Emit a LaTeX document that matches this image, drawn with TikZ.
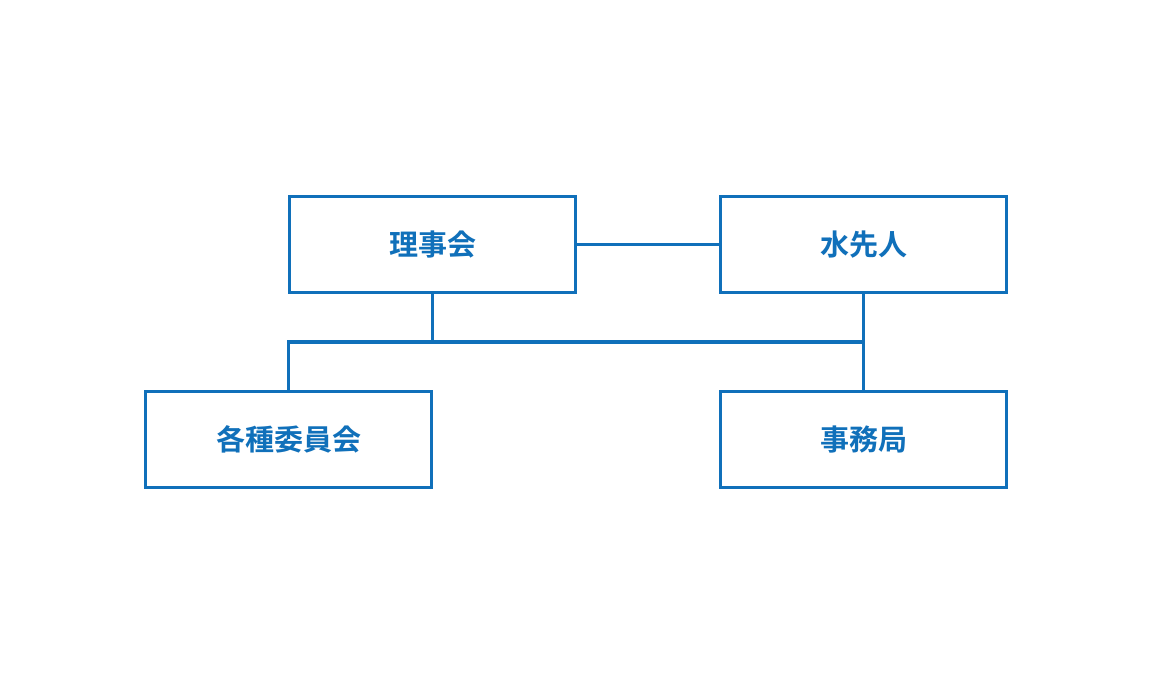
\documentclass[tikz,border=0pt]{standalone}
\usepackage{fontspec}
\newfontfamily\cjk{Noto Sans CJK JP}[BoldFont={Noto Sans CJK JP Bold}]
\definecolor{orgblue}{RGB}{16,112,186}
\begin{document}
\begin{tikzpicture}[x=1pt,y=-1pt,
  orgbox/.style={draw=orgblue,line width=3pt,minimum width=286pt,minimum height=96pt,inner sep=0pt,
    font=\cjk\bfseries\fontsize{29}{33}\selectfont,text=orgblue},
  link/.style={draw=orgblue,line width=3pt}]
\useasboundingbox[fill=white] (0,0) rectangle (1153,685);
\node[orgbox] (riji) at (432.5,244.5) {理事会};
\node[orgbox] (mizu) at (863.5,244.5) {水先人};
\node[orgbox] (kakushu) at (288.5,439.5) {各種委員会};
\node[orgbox] (jimu) at (863.5,439.5) {事務局};
\coordinate (j1) at (432.5,342);
\coordinate (jL) at (288.5,342);
\coordinate (jR) at (863.5,342);
\draw[link] (riji) -- (mizu);
\draw[link] (riji.south) -- (j1);
\draw[link,line width=3.5pt,line cap=rect] (jL) -- (jR);
\draw[link] (jL) -- (kakushu.north);
\draw[link] (mizu.south) -- (jimu.north);
\end{tikzpicture}
\end{document}
